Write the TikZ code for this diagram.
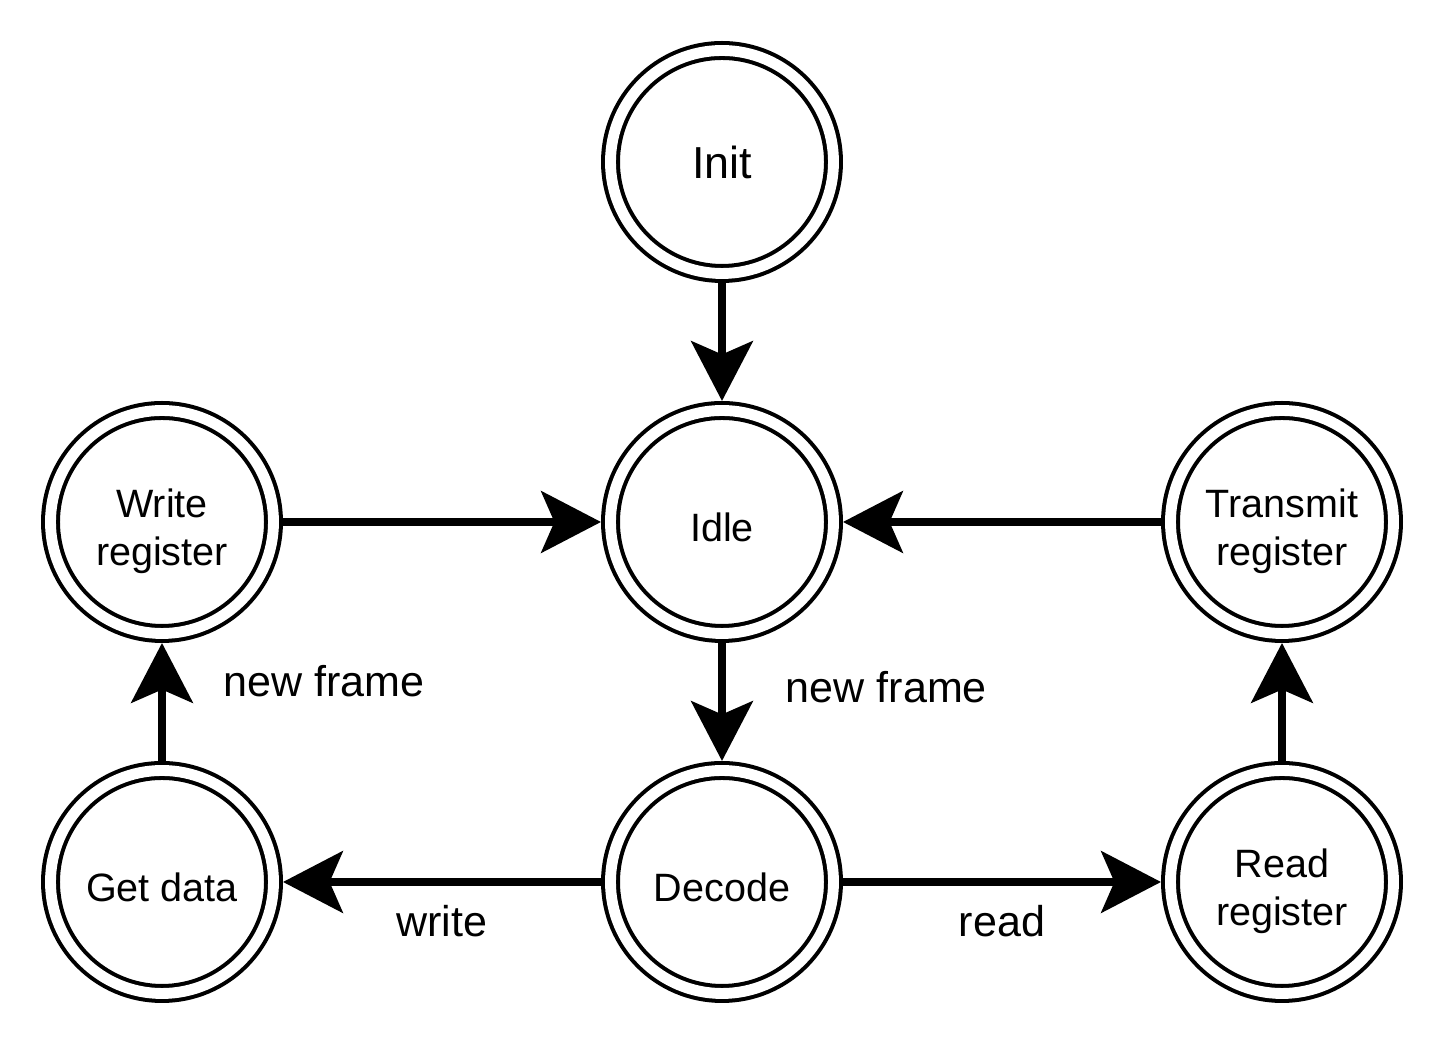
\documentclass[tikz,border=0pt]{standalone}
\usepackage{fontspec}
\setmainfont{Liberation Sans}
\usetikzlibrary{arrows.meta}

\begin{document}
\begin{tikzpicture}[
  ring/.style={circle,draw,line width=2.3pt,double,double distance=6.2pt,minimum size=4.46cm,inner sep=0pt,outer sep=0.19cm,align=center},
  state/.style={ring,font=\fontsize{22.5}{27.5}\selectfont},
  trans/.style={-{Stealth[length=34pt,width=35pt,inset=7.5pt]},line width=4.5pt},
  lbl/.style={inner sep=0pt,font=\fontsize{24.5}{29}\selectfont}]
\useasboundingbox (0,0) rectangle (28.88,20.88);
\node[ring,font=\fontsize{25.5}{30}\selectfont] (init) at (14.44,17.64) {Init};
\node[state] (idle) at (14.44,10.44) {\rule{0pt}{0.98em}Idle};
\node[state] (decode) at (14.44,3.24) {\rule{0pt}{0.98em}Decode};
\node[state] (write) at (3.24,10.44) {\rule{0pt}{1.2em}Write\\register};
\node[state] (get) at (3.24,3.24) {\rule{0pt}{0.98em}Get data};
\node[state] (transmit) at (25.64,10.44) {\rule{0pt}{1.2em}Transmit\\register};
\node[state] (read) at (25.64,3.24) {\rule{0pt}{1.2em}Read\\register};
\draw[trans] (init) -- (idle);
\draw[trans] (write) -- (idle);
\draw[trans] (transmit) -- (idle);
\draw[trans] (idle) -- node[lbl,pos=.37,anchor=west,xshift=1.2cm] {new frame} (decode);
\draw[trans] (get) -- node[lbl,pos=.68,anchor=west,xshift=1.15cm] {new frame} (write);
\draw[trans] (decode) -- node[lbl,yshift=-0.78cm] {write} (get);
\draw[trans] (decode) -- node[lbl,yshift=-0.78cm] {read} (read);
\draw[trans] (read) -- (transmit);
\end{tikzpicture}
\end{document}
